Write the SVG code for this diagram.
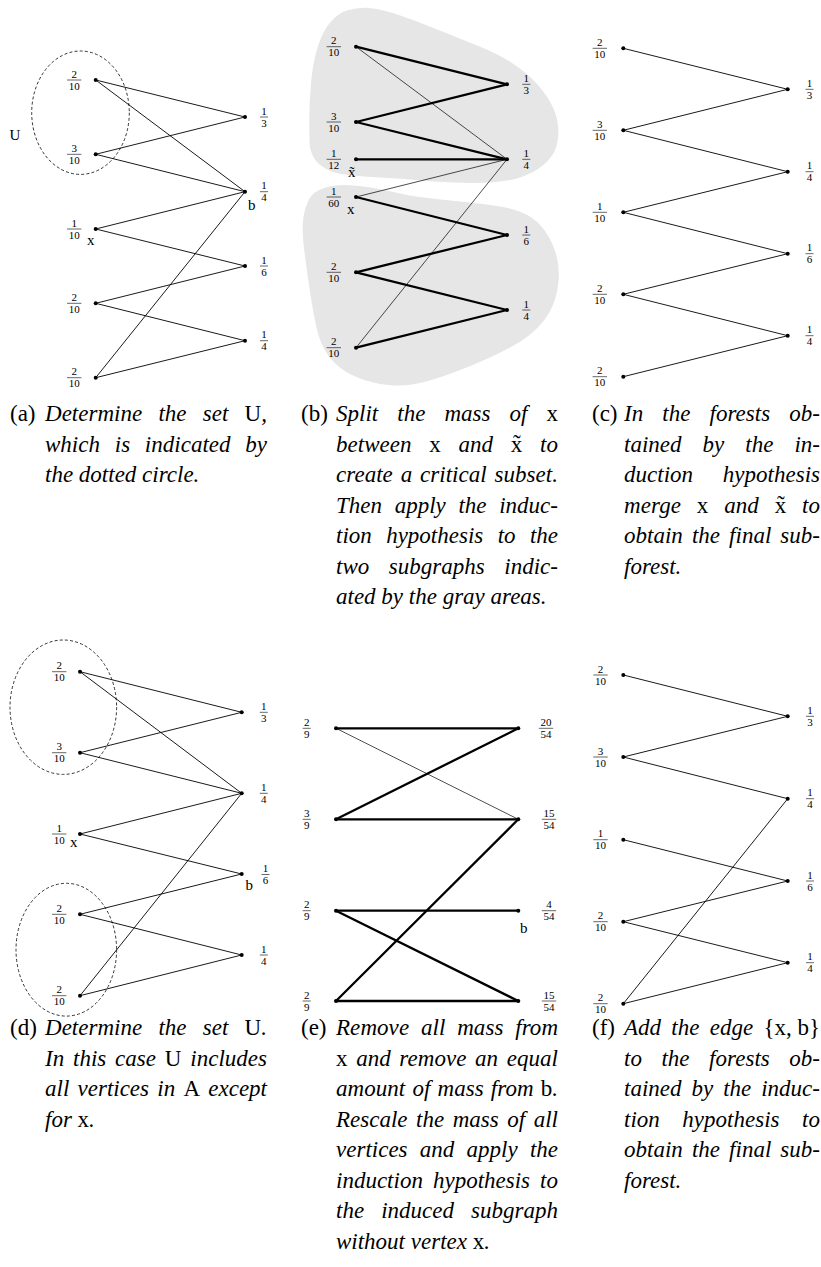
<svg xmlns="http://www.w3.org/2000/svg" width="821" height="1267" viewBox="0 0 821 1267">
<style>
.e{stroke:#000;stroke-width:0.9;fill:none;stroke-linecap:round}
.t{stroke-width:0.7}
.k{stroke-width:2.3}
circle{fill:#000}
.f{font-family:"Liberation Serif",serif;font-size:11px;text-anchor:middle;fill:#000}
.bar{stroke:#000;stroke-width:0.6}
.v{font-family:"Liberation Serif",serif;font-size:15px;fill:#000}
.dash{fill:none;stroke:#000;stroke-width:0.8;stroke-dasharray:3 2.2}
.blob{fill:#e6e6e6;stroke:none}
.c{font-family:"Liberation Serif",serif;font-style:italic;font-size:23px;fill:#000}
.m{font-style:normal}
.lb{font-family:"Liberation Serif",serif;font-style:normal;font-size:23px;fill:#000}
</style>
<rect width="821" height="1267" fill="#fff"/>

<!-- Panel b gray areas -->
<g id="b-areas">
<path class="blob" d="M 309.3,120 Q 309.3,100 311.3,80 Q 313.3,60 318.3,45 Q 323.3,30 330.8,21.7 Q 338.3,13.3 347.5,10.3 Q 356.7,7.3 366.7,7.8 Q 376.7,8.3 388.3,11.7 Q 400,15 415,20.8 Q 430,26.7 446.7,33.3 Q 463.3,40 480,46.7 Q 496.7,53.3 510,61.7 Q 523.3,70 533.3,80 Q 543.3,90 550,101.7 Q 556.7,113.3 558,125 Q 559.3,136.7 556.3,146.7 Q 553.3,156.7 543.3,165 Q 533.3,173.3 520,177.5 Q 506.7,181.7 490,182.5 Q 473.3,183.3 453.3,182.5 Q 433.3,181.7 415,180 Q 396.7,178.3 380,177.5 Q 363.3,176.7 348.3,175 Q 333.3,173.3 325,168.3 Q 316.7,163.3 313.3,156.7 Q 310,150 309.7,145 Q 309.3,140 309.3,120 Z"/>
<path class="blob" d="M 303.3,218.3 Q 305,206.7 309.2,199.2 Q 313.3,191.7 323.3,188.3 Q 333.3,185 345,185 Q 356.7,185 370.8,187.5 Q 385,190 399.2,193.3 Q 413.3,196.7 438.3,199.2 Q 463.3,201.7 485,204.2 Q 506.7,206.7 520,211.7 Q 533.3,216.7 541.7,226.7 Q 550,236.7 554.7,250 Q 559.3,263.3 558.8,276.7 Q 558.3,290 554.2,301.7 Q 550,313.3 541.7,323.3 Q 533.3,333.3 520,341.7 Q 506.7,350 488.3,358.3 Q 470,366.7 451.7,373.3 Q 433.3,380 420,383 Q 406.7,386 393.3,385.5 Q 380,385 366.7,380.8 Q 353.3,376.7 343.3,370 Q 333.3,363.3 326.7,353.3 Q 320,343.3 316.7,328.3 Q 313.3,313.3 310,291.7 Q 306.7,270 304.2,250 Q 301.7,230 303.3,218.3 Z"/>
</g>

<!-- Connectors -->
<g id="connectors">
<line class="e" x1="95.7" y1="80" x2="245" y2="117"/>
<line class="e" x1="95.7" y1="80" x2="245" y2="191.7"/>
<line class="e" x1="95.7" y1="154.3" x2="245" y2="117"/>
<line class="e" x1="95.7" y1="154.3" x2="245" y2="191.7"/>
<line class="e" x1="95.7" y1="229" x2="245" y2="191.7"/>
<line class="e" x1="95.7" y1="229" x2="245" y2="266"/>
<line class="e" x1="95.7" y1="303.3" x2="245" y2="266"/>
<line class="e" x1="95.7" y1="303.3" x2="245" y2="340.7"/>
<line class="e" x1="95.7" y1="377.7" x2="245" y2="191.7"/>
<line class="e" x1="95.7" y1="377.7" x2="245" y2="340.7"/>
<line class="e k" x1="356" y1="46.7" x2="507" y2="84.3"/>
<line class="e k" x1="356" y1="122" x2="507" y2="84.3"/>
<line class="e k" x1="356" y1="122" x2="507" y2="159.3"/>
<line class="e k" x1="356" y1="159.3" x2="507" y2="159.3"/>
<line class="e k" x1="356" y1="197" x2="507" y2="235"/>
<line class="e k" x1="356" y1="272.3" x2="507" y2="235"/>
<line class="e k" x1="356" y1="272.3" x2="507" y2="310"/>
<line class="e k" x1="356" y1="347.7" x2="507" y2="310"/>
<line class="e t" x1="356" y1="46.7" x2="507" y2="159.3"/>
<line class="e t" x1="356" y1="197" x2="507" y2="159.3"/>
<line class="e t" x1="356" y1="347.7" x2="507" y2="159.3"/>
<line class="e" x1="623.3" y1="48.3" x2="787.7" y2="89.3"/>
<line class="e" x1="623.3" y1="130.3" x2="787.7" y2="89.3"/>
<line class="e" x1="623.3" y1="130.3" x2="787.7" y2="171.7"/>
<line class="e" x1="623.3" y1="212.3" x2="787.7" y2="171.7"/>
<line class="e" x1="623.3" y1="212.3" x2="787.7" y2="253.7"/>
<line class="e" x1="623.3" y1="294.3" x2="787.7" y2="253.7"/>
<line class="e" x1="623.3" y1="294.3" x2="787.7" y2="335.7"/>
<line class="e" x1="623.3" y1="376.7" x2="787.7" y2="335.7"/>
<line class="e" x1="80" y1="671.7" x2="241.7" y2="712.3"/>
<line class="e" x1="80" y1="671.7" x2="241.7" y2="793.3"/>
<line class="e" x1="80" y1="752.7" x2="241.7" y2="712.3"/>
<line class="e" x1="80" y1="752.7" x2="241.7" y2="793.3"/>
<line class="e" x1="80" y1="834" x2="241.7" y2="793.3"/>
<line class="e" x1="80" y1="834" x2="241.7" y2="874"/>
<line class="e" x1="80" y1="914.3" x2="241.7" y2="874"/>
<line class="e" x1="80" y1="914.3" x2="241.7" y2="955"/>
<line class="e" x1="80" y1="995.7" x2="241.7" y2="793.3"/>
<line class="e" x1="80" y1="995.7" x2="241.7" y2="955"/>
<line class="e k" x1="336" y1="728.3" x2="518.3" y2="728.3"/>
<line class="e k" x1="336" y1="819.3" x2="518.3" y2="728.3"/>
<line class="e k" x1="336" y1="819.3" x2="518.3" y2="819.3"/>
<line class="e k" x1="336" y1="1001" x2="518.3" y2="819.3"/>
<line class="e k" x1="336" y1="910.7" x2="518.3" y2="910.7"/>
<line class="e k" x1="336" y1="910.7" x2="518.3" y2="1001"/>
<line class="e k" x1="336" y1="1001" x2="518.3" y2="1001"/>
<line class="e t" x1="336" y1="728.3" x2="518.3" y2="819.3"/>
<line class="e" x1="623.3" y1="675" x2="787.7" y2="716.3"/>
<line class="e" x1="623.3" y1="757" x2="787.7" y2="716.3"/>
<line class="e" x1="623.3" y1="757" x2="787.7" y2="798.7"/>
<line class="e" x1="623.3" y1="839.7" x2="787.7" y2="881"/>
<line class="e" x1="623.3" y1="921.7" x2="787.7" y2="881"/>
<line class="e" x1="623.3" y1="921.7" x2="787.7" y2="962.7"/>
<line class="e" x1="623.3" y1="1003.7" x2="787.7" y2="798.7"/>
<line class="e" x1="623.3" y1="1003.7" x2="787.7" y2="962.7"/>
</g>

<!-- Panel a nodes -->
<g id="a-U"><ellipse class="dash" cx="80.5" cy="112.7" rx="48.8" ry="61.7"/><text class="v" x="9.5" y="139.5">U</text></g>
<g id="a-L1"><circle cx="95.7" cy="80" r="2"/><text class="f" x="74.2" y="77.5">2</text><line class="bar" x1="67" y1="80" x2="81.4" y2="80"/><text class="f" x="74.2" y="89.5">10</text></g>
<g id="a-L2"><circle cx="95.7" cy="154.3" r="2"/><text class="f" x="74.2" y="151.8">3</text><line class="bar" x1="67" y1="154.3" x2="81.4" y2="154.3"/><text class="f" x="74.2" y="163.8">10</text></g>
<g id="a-L3"><circle cx="95.7" cy="229" r="2"/><text class="f" x="74.2" y="226.5">1</text><line class="bar" x1="67" y1="229" x2="81.4" y2="229"/><text class="f" x="74.2" y="238.5">10</text><text class="v" x="87" y="245">x</text></g>
<g id="a-L4"><circle cx="95.7" cy="303.3" r="2"/><text class="f" x="74.2" y="300.8">2</text><line class="bar" x1="67" y1="303.3" x2="81.4" y2="303.3"/><text class="f" x="74.2" y="312.8">10</text></g>
<g id="a-L5"><circle cx="95.7" cy="377.7" r="2"/><text class="f" x="74.2" y="375.2">2</text><line class="bar" x1="67" y1="377.7" x2="81.4" y2="377.7"/><text class="f" x="74.2" y="387.2">10</text></g>
<g id="a-R1"><circle cx="245" cy="117" r="2"/><text class="f" x="264" y="114.5">1</text><line class="bar" x1="260" y1="117" x2="268" y2="117"/><text class="f" x="264" y="126.5">3</text></g>
<g id="a-R2"><circle cx="245" cy="191.7" r="2"/><text class="f" x="264" y="189.2">1</text><line class="bar" x1="260" y1="191.7" x2="268" y2="191.7"/><text class="f" x="264" y="201.2">4</text><text class="v" x="248" y="209.5">b</text></g>
<g id="a-R3"><circle cx="245" cy="266" r="2"/><text class="f" x="264" y="263.5">1</text><line class="bar" x1="260" y1="266" x2="268" y2="266"/><text class="f" x="264" y="275.5">6</text></g>
<g id="a-R4"><circle cx="245" cy="340.7" r="2"/><text class="f" x="264" y="338.2">1</text><line class="bar" x1="260" y1="340.7" x2="268" y2="340.7"/><text class="f" x="264" y="350.2">4</text></g>

<!-- Panel b nodes -->
<g id="b-L1"><circle cx="356" cy="46.7" r="2"/><text class="f" x="333.8" y="44.2">2</text><line class="bar" x1="326.6" y1="46.7" x2="341" y2="46.7"/><text class="f" x="333.8" y="56.2">10</text></g>
<g id="b-L2"><circle cx="356" cy="122" r="2"/><text class="f" x="333.8" y="119.5">3</text><line class="bar" x1="326.6" y1="122" x2="341" y2="122"/><text class="f" x="333.8" y="131.5">10</text></g>
<g id="b-L3"><circle cx="356" cy="159.3" r="2"/><text class="f" x="333.8" y="156.8">1</text><line class="bar" x1="326.6" y1="159.3" x2="341" y2="159.3"/><text class="f" x="333.8" y="168.8">12</text><text class="v" x="348" y="177">x̃</text></g>
<g id="b-L4"><circle cx="356" cy="197" r="2"/><text class="f" x="333.8" y="194.5">1</text><line class="bar" x1="326.6" y1="197" x2="341" y2="197"/><text class="f" x="333.8" y="206.5">60</text><text class="v" x="347" y="213.5">x</text></g>
<g id="b-L5"><circle cx="356" cy="272.3" r="2"/><text class="f" x="333.8" y="269.8">2</text><line class="bar" x1="326.6" y1="272.3" x2="341" y2="272.3"/><text class="f" x="333.8" y="281.8">10</text></g>
<g id="b-L6"><circle cx="356" cy="347.7" r="2"/><text class="f" x="333.8" y="345.2">2</text><line class="bar" x1="326.6" y1="347.7" x2="341" y2="347.7"/><text class="f" x="333.8" y="357.2">10</text></g>
<g id="b-R1"><circle cx="507" cy="84.3" r="2"/><text class="f" x="526.3" y="81.8">1</text><line class="bar" x1="522.3" y1="84.3" x2="530.3" y2="84.3"/><text class="f" x="526.3" y="93.8">3</text></g>
<g id="b-R2"><circle cx="507" cy="159.3" r="2"/><text class="f" x="526.3" y="156.8">1</text><line class="bar" x1="522.3" y1="159.3" x2="530.3" y2="159.3"/><text class="f" x="526.3" y="168.8">4</text></g>
<g id="b-R3"><circle cx="507" cy="235" r="2"/><text class="f" x="526.3" y="232.5">1</text><line class="bar" x1="522.3" y1="235" x2="530.3" y2="235"/><text class="f" x="526.3" y="244.5">6</text></g>
<g id="b-R4"><circle cx="507" cy="310" r="2"/><text class="f" x="526.3" y="307.5">1</text><line class="bar" x1="522.3" y1="310" x2="530.3" y2="310"/><text class="f" x="526.3" y="319.5">4</text></g>

<!-- Panel c nodes -->
<g id="c-L1"><circle cx="623.3" cy="48.3" r="2"/><text class="f" x="599.8" y="45.8">2</text><line class="bar" x1="592.6" y1="48.3" x2="607" y2="48.3"/><text class="f" x="599.8" y="57.8">10</text></g>
<g id="c-L2"><circle cx="623.3" cy="130.3" r="2"/><text class="f" x="599.8" y="127.8">3</text><line class="bar" x1="592.6" y1="130.3" x2="607" y2="130.3"/><text class="f" x="599.8" y="139.8">10</text></g>
<g id="c-L3"><circle cx="623.3" cy="212.3" r="2"/><text class="f" x="599.8" y="209.8">1</text><line class="bar" x1="592.6" y1="212.3" x2="607" y2="212.3"/><text class="f" x="599.8" y="221.8">10</text></g>
<g id="c-L4"><circle cx="623.3" cy="294.3" r="2"/><text class="f" x="599.8" y="291.8">2</text><line class="bar" x1="592.6" y1="294.3" x2="607" y2="294.3"/><text class="f" x="599.8" y="303.8">10</text></g>
<g id="c-L5"><circle cx="623.3" cy="376.7" r="2"/><text class="f" x="599.8" y="374.2">2</text><line class="bar" x1="592.6" y1="376.7" x2="607" y2="376.7"/><text class="f" x="599.8" y="386.2">10</text></g>
<g id="c-R1"><circle cx="787.7" cy="89.3" r="2"/><text class="f" x="809.5" y="86.8">1</text><line class="bar" x1="805.5" y1="89.3" x2="813.5" y2="89.3"/><text class="f" x="809.5" y="98.8">3</text></g>
<g id="c-R2"><circle cx="787.7" cy="171.7" r="2"/><text class="f" x="809.5" y="169.2">1</text><line class="bar" x1="805.5" y1="171.7" x2="813.5" y2="171.7"/><text class="f" x="809.5" y="181.2">4</text></g>
<g id="c-R3"><circle cx="787.7" cy="253.7" r="2"/><text class="f" x="809.5" y="251.2">1</text><line class="bar" x1="805.5" y1="253.7" x2="813.5" y2="253.7"/><text class="f" x="809.5" y="263.2">6</text></g>
<g id="c-R4"><circle cx="787.7" cy="335.7" r="2"/><text class="f" x="809.5" y="333.2">1</text><line class="bar" x1="805.5" y1="335.7" x2="813.5" y2="335.7"/><text class="f" x="809.5" y="345.2">4</text></g>

<!-- Panel d nodes -->
<g id="d-U1"><ellipse class="dash" cx="63.3" cy="707.2" rx="53.3" ry="67.2"/></g>
<g id="d-U2"><ellipse class="dash" cx="66.3" cy="949.7" rx="50.3" ry="66.4"/></g>
<g id="d-L1"><circle cx="80" cy="671.7" r="2"/><text class="f" x="59.2" y="669.2">2</text><line class="bar" x1="52" y1="671.7" x2="66.4" y2="671.7"/><text class="f" x="59.2" y="681.2">10</text></g>
<g id="d-L2"><circle cx="80" cy="752.7" r="2"/><text class="f" x="59.2" y="750.2">3</text><line class="bar" x1="52" y1="752.7" x2="66.4" y2="752.7"/><text class="f" x="59.2" y="762.2">10</text></g>
<g id="d-L3"><circle cx="80" cy="834" r="2"/><text class="f" x="59.2" y="831.5">1</text><line class="bar" x1="52" y1="834" x2="66.4" y2="834"/><text class="f" x="59.2" y="843.5">10</text><text class="v" x="70" y="846.5">x</text></g>
<g id="d-L4"><circle cx="80" cy="914.3" r="2"/><text class="f" x="59.2" y="911.8">2</text><line class="bar" x1="52" y1="914.3" x2="66.4" y2="914.3"/><text class="f" x="59.2" y="923.8">10</text></g>
<g id="d-L5"><circle cx="80" cy="995.7" r="2"/><text class="f" x="59.2" y="993.2">2</text><line class="bar" x1="52" y1="995.7" x2="66.4" y2="995.7"/><text class="f" x="59.2" y="1005.2">10</text></g>
<g id="d-R1"><circle cx="241.7" cy="712.3" r="2"/><text class="f" x="263.8" y="709.8">1</text><line class="bar" x1="259.8" y1="712.3" x2="267.8" y2="712.3"/><text class="f" x="263.8" y="721.8">3</text></g>
<g id="d-R2"><circle cx="241.7" cy="793.3" r="2"/><text class="f" x="263.8" y="790.8">1</text><line class="bar" x1="259.8" y1="793.3" x2="267.8" y2="793.3"/><text class="f" x="263.8" y="802.8">4</text></g>
<g id="d-R3"><circle cx="241.7" cy="874" r="2"/><text class="f" x="265.5" y="872">1</text><line class="bar" x1="261.5" y1="874.5" x2="269.5" y2="874.5"/><text class="f" x="265.5" y="884">6</text><text class="v" x="245.5" y="890">b</text></g>
<g id="d-R4"><circle cx="241.7" cy="955" r="2"/><text class="f" x="263.8" y="952.5">1</text><line class="bar" x1="259.8" y1="955" x2="267.8" y2="955"/><text class="f" x="263.8" y="964.5">4</text></g>

<!-- Panel e nodes -->
<g id="e-L1"><circle cx="336" cy="728.3" r="2"/><text class="f" x="306.7" y="725.8">2</text><line class="bar" x1="302.7" y1="728.3" x2="310.7" y2="728.3"/><text class="f" x="306.7" y="737.8">9</text></g>
<g id="e-L2"><circle cx="336" cy="819.3" r="2"/><text class="f" x="306.7" y="816.8">3</text><line class="bar" x1="302.7" y1="819.3" x2="310.7" y2="819.3"/><text class="f" x="306.7" y="828.8">9</text></g>
<g id="e-L3"><circle cx="336" cy="910.7" r="2"/><text class="f" x="306.7" y="908.2">2</text><line class="bar" x1="302.7" y1="910.7" x2="310.7" y2="910.7"/><text class="f" x="306.7" y="920.2">9</text></g>
<g id="e-L4"><circle cx="336" cy="1001" r="2"/><text class="f" x="306.7" y="998.5">2</text><line class="bar" x1="302.7" y1="1001" x2="310.7" y2="1001"/><text class="f" x="306.7" y="1010.5">9</text></g>
<g id="e-R1"><circle cx="518.3" cy="728.3" r="2"/><text class="f" x="546" y="725.8">20</text><line class="bar" x1="538.8" y1="728.3" x2="553.2" y2="728.3"/><text class="f" x="546" y="737.8">54</text></g>
<g id="e-R2"><circle cx="518.3" cy="819.3" r="2"/><text class="f" x="549" y="816.8">15</text><line class="bar" x1="541.8" y1="819.3" x2="556.2" y2="819.3"/><text class="f" x="549" y="828.8">54</text></g>
<g id="e-R3"><circle cx="518.3" cy="910.7" r="2"/><text class="f" x="549" y="908.2">4</text><line class="bar" x1="541.8" y1="910.7" x2="556.2" y2="910.7"/><text class="f" x="549" y="920.2">54</text><text class="v" x="520" y="933">b</text></g>
<g id="e-R4"><circle cx="518.3" cy="1001" r="2"/><text class="f" x="549" y="998.5">15</text><line class="bar" x1="541.8" y1="1001" x2="556.2" y2="1001"/><text class="f" x="549" y="1010.5">54</text></g>

<!-- Panel f nodes -->
<g id="f-L1"><circle cx="623.3" cy="675" r="2"/><text class="f" x="600.5" y="672.5">2</text><line class="bar" x1="593.3" y1="675" x2="607.7" y2="675"/><text class="f" x="600.5" y="684.5">10</text></g>
<g id="f-L2"><circle cx="623.3" cy="757" r="2"/><text class="f" x="600.5" y="754.5">3</text><line class="bar" x1="593.3" y1="757" x2="607.7" y2="757"/><text class="f" x="600.5" y="766.5">10</text></g>
<g id="f-L3"><circle cx="623.3" cy="839.7" r="2"/><text class="f" x="600.5" y="837.2">1</text><line class="bar" x1="593.3" y1="839.7" x2="607.7" y2="839.7"/><text class="f" x="600.5" y="849.2">10</text></g>
<g id="f-L4"><circle cx="623.3" cy="921.7" r="2"/><text class="f" x="600.5" y="919.2">2</text><line class="bar" x1="593.3" y1="921.7" x2="607.7" y2="921.7"/><text class="f" x="600.5" y="931.2">10</text></g>
<g id="f-L5"><circle cx="623.3" cy="1003.7" r="2"/><text class="f" x="600.5" y="1001.2">2</text><line class="bar" x1="593.3" y1="1003.7" x2="607.7" y2="1003.7"/><text class="f" x="600.5" y="1013.2">10</text></g>
<g id="f-R1"><circle cx="787.7" cy="716.3" r="2"/><text class="f" x="810" y="713.8">1</text><line class="bar" x1="806" y1="716.3" x2="814" y2="716.3"/><text class="f" x="810" y="725.8">3</text></g>
<g id="f-R2"><circle cx="787.7" cy="798.7" r="2"/><text class="f" x="810" y="796.2">1</text><line class="bar" x1="806" y1="798.7" x2="814" y2="798.7"/><text class="f" x="810" y="808.2">4</text></g>
<g id="f-R3"><circle cx="787.7" cy="881" r="2"/><text class="f" x="810" y="878.5">1</text><line class="bar" x1="806" y1="881" x2="814" y2="881"/><text class="f" x="810" y="890.5">6</text></g>
<g id="f-R4"><circle cx="787.7" cy="962.7" r="2"/><text class="f" x="810" y="960.2">1</text><line class="bar" x1="806" y1="962.7" x2="814" y2="962.7"/><text class="f" x="810" y="972.2">4</text></g>

<!-- Captions -->
<g id="cap-a">
<text class="lb" x="10" y="421">(a)</text>
<text class="c" x="45" y="421" style="word-spacing:10.5px" textLength="222" lengthAdjust="spacing">Determine the set <tspan class="m">U</tspan>,</text>
<text class="c" x="45" y="451.5" style="word-spacing:9px" textLength="222" lengthAdjust="spacing">which is indicated by</text>
<text class="c" x="45" y="482">the dotted circle.</text>
</g>
<g id="cap-b">
<text class="lb" x="301" y="421">(b)</text>
<text class="c" x="336" y="421" style="word-spacing:13.3px" textLength="222" lengthAdjust="spacing">Split the mass of <tspan class="m">x</tspan></text>
<text class="c" x="336" y="451.5" style="word-spacing:12px" textLength="222" lengthAdjust="spacing">between <tspan class="m">x</tspan> and <tspan class="m">x̃</tspan> to</text>
<text class="c" x="336" y="482" style="word-spacing:2px" textLength="222" lengthAdjust="spacing">create a critical subset.</text>
<text class="c" x="336" y="512.5" style="word-spacing:6.9px" textLength="222" lengthAdjust="spacing">Then apply the induc-</text>
<text class="c" x="336" y="543" style="word-spacing:8.6px" textLength="222" lengthAdjust="spacing">tion hypothesis to the</text>
<text class="c" x="336" y="573.5" style="word-spacing:13.9px" textLength="222" lengthAdjust="spacing">two subgraphs indic-</text>
<text class="c" x="336" y="604">ated by the gray areas.</text>
</g>
<g id="cap-c">
<text class="lb" x="592" y="421">(c)</text>
<text class="c" x="624" y="421" style="word-spacing:13.2px" textLength="196" lengthAdjust="spacing">In the forests ob-</text>
<text class="c" x="624" y="451.5" style="word-spacing:15.3px" textLength="196" lengthAdjust="spacing">tained by the in-</text>
<text class="c" x="624" y="482" style="word-spacing:24px" textLength="196" lengthAdjust="spacing">duction hypothesis</text>
<text class="c" x="624" y="512.5" style="word-spacing:10px" textLength="196" lengthAdjust="spacing">merge <tspan class="m">x</tspan> and <tspan class="m">x̃</tspan> to</text>
<text class="c" x="624" y="543" style="word-spacing:3.3px" textLength="196" lengthAdjust="spacing">obtain the final sub-</text>
<text class="c" x="624" y="573.5">forest.</text>
</g>
<g id="cap-d">
<text class="lb" x="10" y="1035">(d)</text>
<text class="c" x="45" y="1035" style="word-spacing:10.5px" textLength="222" lengthAdjust="spacing">Determine the set <tspan class="m">U</tspan>.</text>
<text class="c" x="45" y="1065.5" style="word-spacing:3.1px" textLength="222" lengthAdjust="spacing">In this case <tspan class="m">U</tspan> includes</text>
<text class="c" x="45" y="1096" style="word-spacing:2.5px" textLength="222" lengthAdjust="spacing">all vertices in <tspan class="m">A</tspan> except</text>
<text class="c" x="45" y="1126.5">for <tspan class="m">x</tspan>.</text>
</g>
<g id="cap-e">
<text class="lb" x="301" y="1035">(e)</text>
<text class="c" x="336" y="1035" style="word-spacing:6px" textLength="222" lengthAdjust="spacing">Remove all mass from</text>
<text class="c" x="336" y="1065.5" style="word-spacing:2.8px" textLength="222" lengthAdjust="spacing"><tspan class="m">x</tspan> and remove an equal</text>
<text class="c" x="336" y="1096" style="word-spacing:1.3px" textLength="222" lengthAdjust="spacing">amount of mass from <tspan class="m">b</tspan>.</text>
<text class="c" x="336" y="1126.5" style="word-spacing:2.8px" textLength="222" lengthAdjust="spacing">Rescale the mass of all</text>
<text class="c" x="336" y="1157" style="word-spacing:6.5px" textLength="222" lengthAdjust="spacing">vertices and apply the</text>
<text class="c" x="336" y="1187.5" style="word-spacing:4.3px" textLength="222" lengthAdjust="spacing">induction hypothesis to</text>
<text class="c" x="336" y="1218" style="word-spacing:11.3px" textLength="222" lengthAdjust="spacing">the induced subgraph</text>
<text class="c" x="336" y="1248.5">without vertex <tspan class="m">x</tspan>.</text>
</g>
<g id="cap-f">
<text class="lb" x="592" y="1035">(f)</text>
<text class="c" x="624" y="1035" style="word-spacing:4.5px" textLength="196" lengthAdjust="spacing">Add the edge <tspan class="m" style="word-spacing:0">{x, b}</tspan></text>
<text class="c" x="624" y="1065.5" style="word-spacing:13.6px" textLength="196" lengthAdjust="spacing">to the forests ob-</text>
<text class="c" x="624" y="1096" style="word-spacing:4.2px" textLength="196" lengthAdjust="spacing">tained by the induc-</text>
<text class="c" x="624" y="1126.5" style="word-spacing:16.8px" textLength="196" lengthAdjust="spacing">tion hypothesis to</text>
<text class="c" x="624" y="1157" style="word-spacing:3.3px" textLength="196" lengthAdjust="spacing">obtain the final sub-</text>
<text class="c" x="624" y="1187.5">forest.</text>
</g>
</svg>
